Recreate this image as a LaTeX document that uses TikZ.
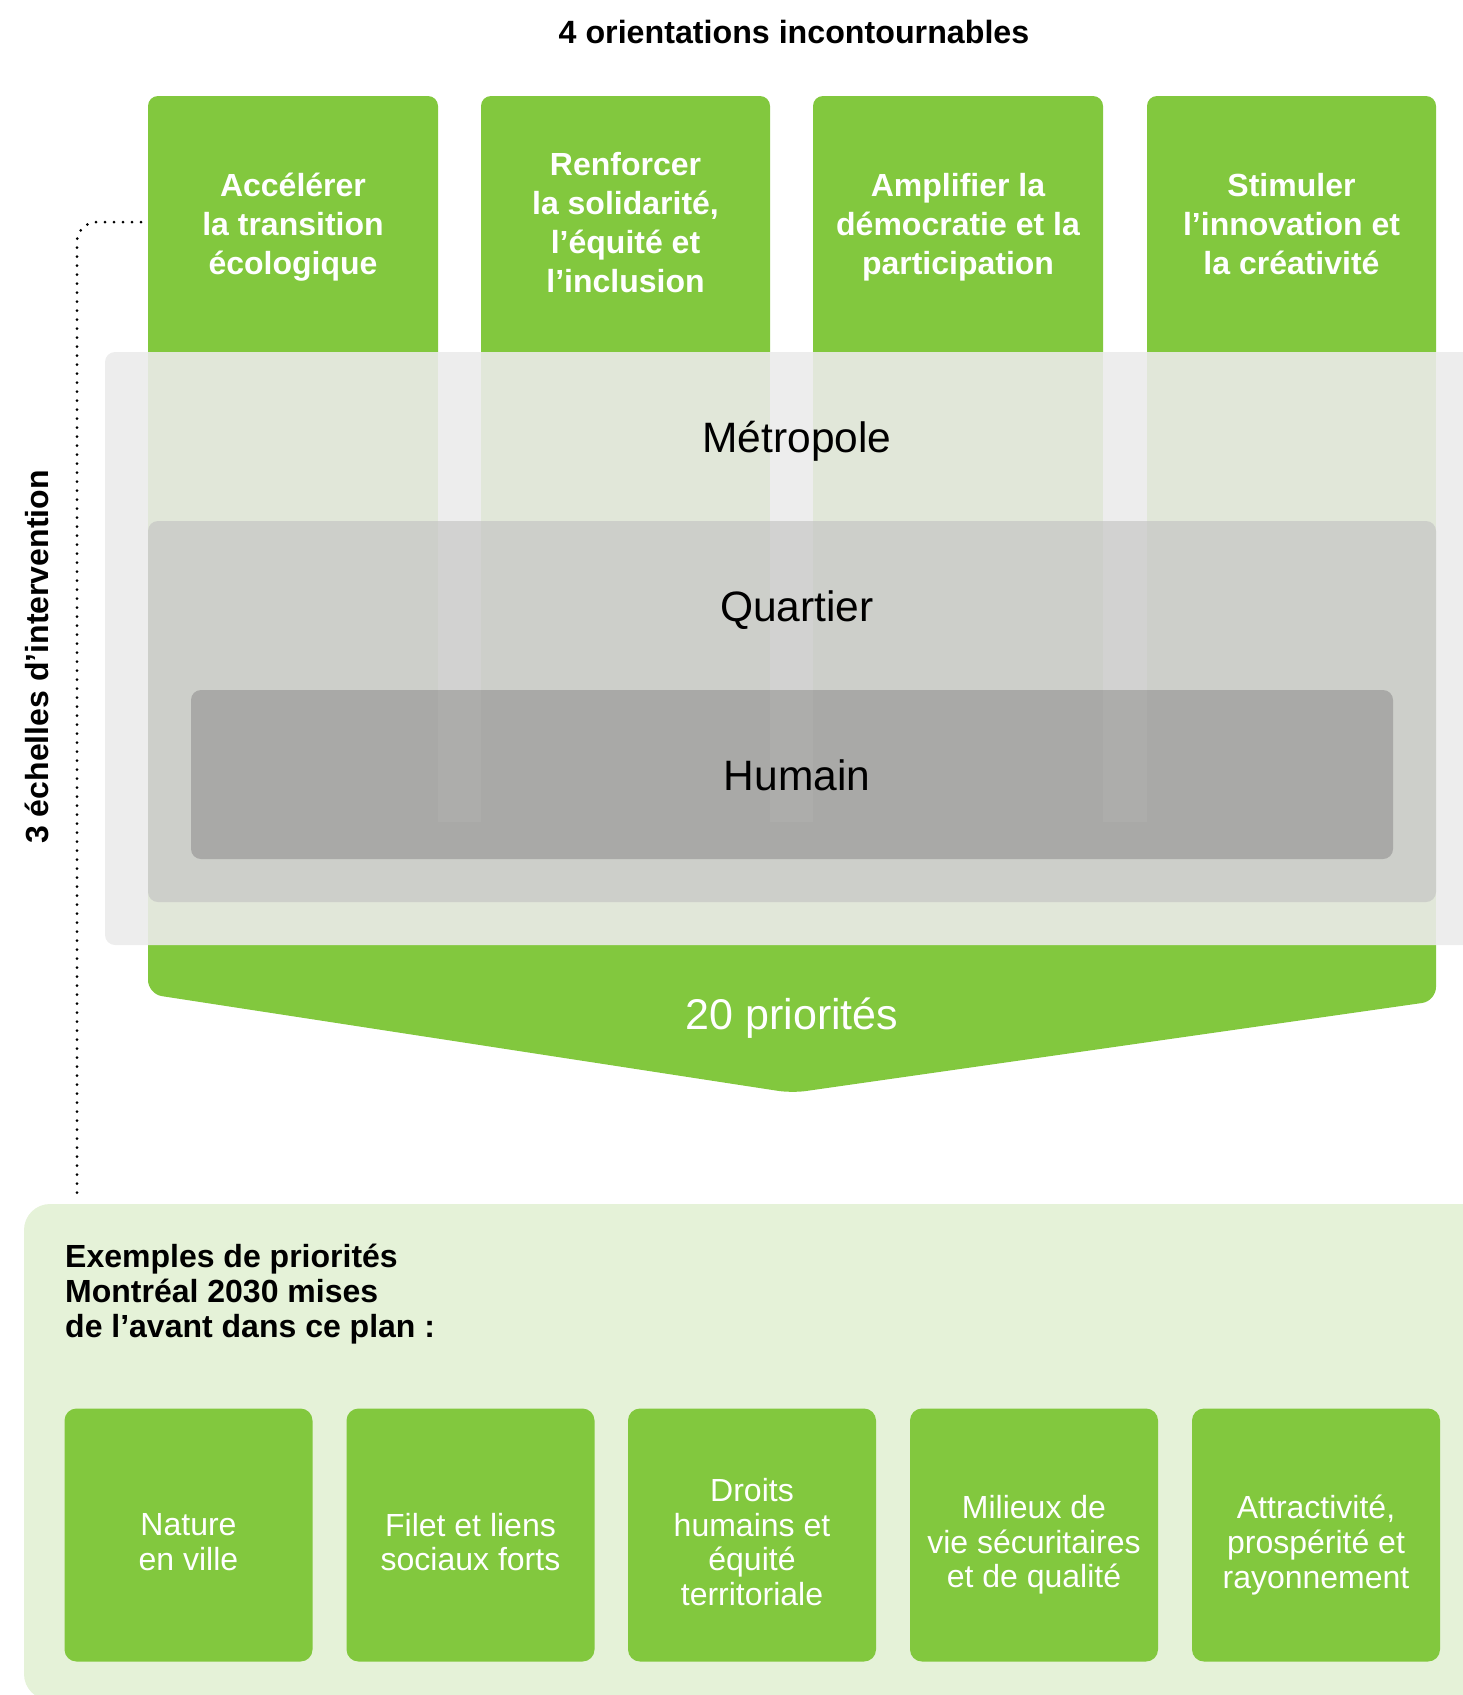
\documentclass[tikz,border=0pt]{standalone}
\usepackage{fontspec}
\setmainfont{Liberation Sans}
\definecolor{vert}{HTML}{82C83E}
\definecolor{metro}{HTML}{EDEDED}
\definecolor{tint}{HTML}{E1E7D9}
\definecolor{quart}{HTML}{CDCFCA}
\definecolor{quartstrip}{HTML}{D2D2D1}
\definecolor{hum}{HTML}{A9A9A7}
\definecolor{humstrip}{HTML}{ADADAB}
\definecolor{paleg}{HTML}{E5F2D8}
\tikzset{
  otext/.style={text=white, font=\bfseries\fontsize{32}{39}\selectfont, align=center, inner sep=0},
  btext/.style={text=white, font=\fontsize{32}{34.6}\selectfont, align=center, inner sep=0},
  bbox/.style={fill=vert, rounded corners=12, minimum width=248, minimum height=253, inner sep=0},
  level/.style={text=black, font=\fontsize{42.5}{48}\selectfont, inner sep=0},
  dotline/.style={line width=3, line cap=round, dash pattern=on 0pt off 9pt, rounded corners=20},
}
\begin{document}
\begin{tikzpicture}[x=1pt,y=-1pt]
\useasboundingbox (0,0) rectangle (1463,1695);

% title
\node[font=\bfseries\fontsize{32.2}{36}\selectfont, inner sep=0] (title) at (794,32) {4 orientations incontournables};

% orientation columns (green)
\fill[vert, rounded corners=10] (148,96) rectangle (438,420);
\fill[vert, rounded corners=10] (481,96) rectangle (770,420);
\fill[vert, rounded corners=10] (813,96) rectangle (1103,420);
\fill[vert, rounded corners=10] (1147,96) rectangle (1436,420);

% 20 priorites arrow shape
\fill[vert, rounded corners=14] (148,880) -- (148,994) -- (792,1093) -- (1436,1001) -- (1436,880) -- cycle;

% metropole panel
\fill[metro, rounded corners=10] (105,352) rectangle (1520,945);
\fill[tint] (148,352) rectangle (1436,945);
\fill[metro] (438,352) rectangle (481,521);
\fill[metro] (770,352) rectangle (813,521);
\fill[metro] (1103,352) rectangle (1147,521);

% quartier panel
\fill[quart, rounded corners=10] (148,521) rectangle (1436,902);
\fill[quartstrip] (438,521) rectangle (481,822);
\fill[quartstrip] (770,521) rectangle (813,822);
\fill[quartstrip] (1103,521) rectangle (1147,822);

% humain panel
\fill[hum, rounded corners=10] (191,690) rectangle (1393,859);
\fill[humstrip] (438,690) rectangle (481,822);
\fill[humstrip] (770,690) rectangle (813,822);
\fill[humstrip] (1103,690) rectangle (1147,822);

% orientation texts
\node[otext] (o1) at (293,227) {Accélérer\\la transition\\écologique};
\node[otext] (o2) at (625.5,223) {Renforcer\\la solidarité,\\l’équité et\\l’inclusion};
\node[otext] (o3) at (958,227) {Amplifier la\\démocratie et la\\participation};
\node[otext] (o4) at (1291.5,224) {Stimuler\\l’innovation et\\la créativité};

% levels
\node[level] (metropole) at (797,441) {Métropole};
\node[level] (quartier) at (797,610) {Quartier};
\node[level] (humain) at (797,775) {Humain};
\node[text=white, font=\fontsize{43}{48}\selectfont, inner sep=0] (prio) at (792,1018) {20 priorités};

% vertical label
\node[font=\bfseries\fontsize{32}{38}\selectfont, rotate=90, inner sep=0] (echelles) at (37,657) {3 échelles d’intervention};

% dotted connector
\coordinate (dotA) at (141,222);
\coordinate (dotB) at (77,1198);
\draw[dotline] (dotA) -| (dotB);

% bottom panel
\fill[paleg, rounded corners=26] (24,1204) rectangle (1520,1700);
\node[font=\bfseries\fontsize{32}{34.8}\selectfont, align=left, anchor=west, inner sep=0] (exemples) at (65,1294) {Exemples de priorités\\Montréal 2030 mises\\de l’avant dans ce plan :};

% bottom boxes
\node[bbox] (b1) at (188.5,1535) {};
\node[bbox] (b2) at (470.5,1535) {};
\node[bbox] (b3) at (752,1535) {};
\node[bbox] (b4) at (1034,1535) {};
\node[bbox] (b5) at (1316,1535) {};
\node[btext] (t1) at (188.5,1542) {Nature\\en ville};
\node[btext] (t2) at (470.5,1542) {Filet et liens\\sociaux forts};
\node[btext] (t3) at (752,1542) {Droits\\humains et\\équité\\territoriale};
\node[btext] (t4) at (1034,1545) {Milieux de\\vie sécuritaires\\et de qualité};
\node[btext] (t5) at (1316,1545) {Attractivité,\\prospérité et\\rayonnement};
\end{tikzpicture}
\end{document}
